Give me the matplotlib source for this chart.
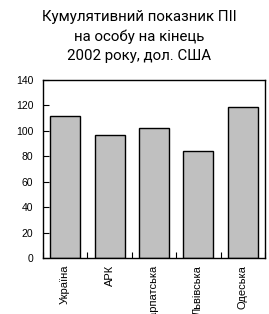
import matplotlib
matplotlib.use("Agg")
import matplotlib.pyplot as plt
import numpy as np

regions = ["Україна", "АРК", "Закарпатська", "Львівська", "Одеська"]
fdi_per_capita = [111.5, 96.5, 102.0, 84.2, 118.6]
y_ticks = [0, 20, 40, 60, 80, 100, 120, 140]
title = "Кумулятивний показник ПІІ\nна особу на кінець\n2002 року, дол. США"

W, H = 269, 314
fig = plt.figure(figsize=(W / 100, H / 100), dpi=100)
ax = fig.add_axes([43 / W, 1 - 258 / H, 222 / W, 178 / H])

x = np.arange(len(regions))
ax.bar(x, fdi_per_capita, width=0.68, color="#c0c0c0",
       edgecolor="black", linewidth=1.0)

ax.set_xlim(-0.5, len(regions) - 0.5)
ax.set_ylim(0, 140)
ax.set_yticks(y_ticks)
ax.set_yticklabels([str(t) for t in y_ticks], fontsize=7.5,
                   family="Liberation Sans")
ax.tick_params(axis="y", direction="in", length=4, width=0.8, pad=7)

# category boundary ticks on x, labels at centers
ax.set_xticks(np.arange(len(regions) + 1) - 0.5)
ax.set_xticklabels([])
ax.set_xticks(x, minor=True)
ax.set_xticklabels(regions, minor=True, rotation=90, fontsize=8,
                   family="Liberation Sans", va="top", ha="center")
ax.tick_params(axis="x", which="major", direction="in", length=4, width=0.8)
ax.tick_params(axis="x", which="minor", length=0, pad=5)

for s in ax.spines.values():
    s.set_linewidth(1.0)

fig.text(139 / W, 1 - 10 / H, title, ha="center", va="top", fontsize=10.8,
         family=["Roboto", "DejaVu Sans"], linespacing=1.45)

fig.savefig("out.png", dpi=100)
